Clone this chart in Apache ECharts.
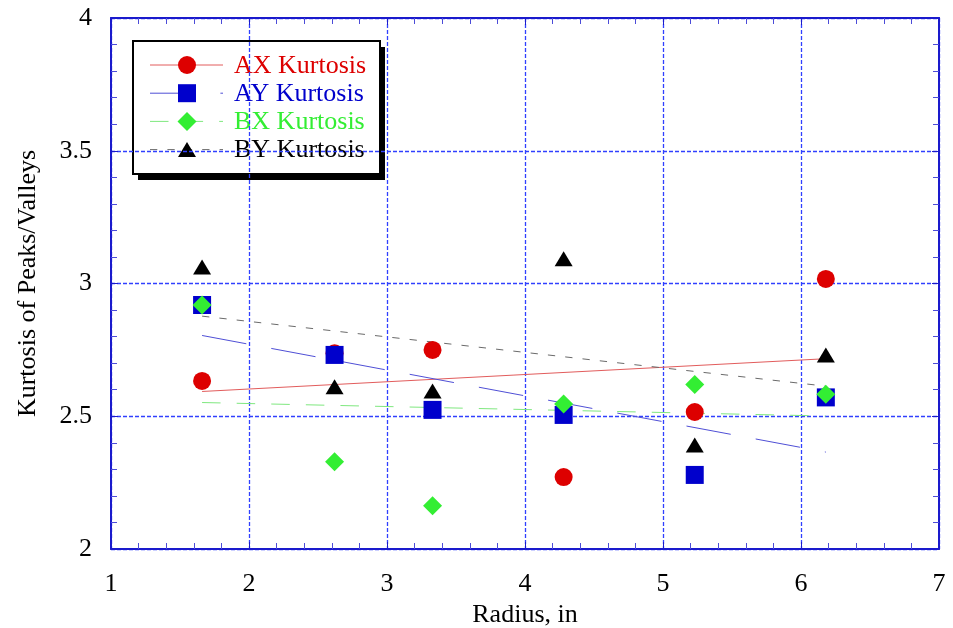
<!DOCTYPE html>
<html>
<head>
<meta charset="utf-8">
<script src="https://cdn.jsdelivr.net/npm/echarts/dist/echarts.min.js"></script>
<style>
  html, body { margin: 0; padding: 0; background: #fff; }
  #chart { width: 953px; height: 628px; }
</style>
</head>
<body>
<div id="chart"></div>
<script>
// Kurtosis of peaks/valleys against radius, four measurement sets
const radius     = [1.66, 2.62, 3.33, 4.28, 5.23, 6.18];
const axKurtosis = [2.633, 2.737, 2.75, 2.271, 2.516, 3.017];
const ayKurtosis = [2.919, 2.731, 2.524, 2.505, 2.279, 2.571];
const bxKurtosis = [2.919, 2.329, 2.163, 2.546, 2.620, 2.583];
const byKurtosis = [3.062, 2.611, 2.595, 3.093, 2.392, 2.731];
const seriesNames = ['AX Kurtosis', 'AY Kurtosis', 'BX Kurtosis', 'BY Kurtosis'];
const xTickLabels = ['1', '2', '3', '4', '5', '6', '7'];
const yTickLabels = ['2', '2.5', '3', '3.5', '4'];

const values = [axKurtosis, ayKurtosis, bxKurtosis, byKurtosis];

const looks = [
  { color: '#dd0000', symbol: 'circle',   size: 18,       line: '#e25c5c', dash: 'solid' },
  { color: '#0000cc', symbol: 'rect',     size: 18,       line: '#4f4fd6', dash: [45, 25.4] },
  { color: '#33ee33', symbol: 'diamond',  size: [19, 19], line: '#7fe87f', dash: [18.5, 16.1] },
  { color: '#000000', symbol: 'triangle', size: [18, 15], line: '#6a6a6a', dash: [7.3, 10.1] }
];

// least-squares line over the range of the data
function linearFit(xs, ys) {
  const n = xs.length;
  const mx = xs.reduce((a, b) => a + b, 0) / n;
  const my = ys.reduce((a, b) => a + b, 0) / n;
  let sxx = 0, sxy = 0;
  for (let i = 0; i < n; i++) {
    sxx += (xs[i] - mx) * (xs[i] - mx);
    sxy += (xs[i] - mx) * (ys[i] - my);
  }
  const slope = sxy / sxx;
  const icpt = my - slope * mx;
  const x0 = Math.min(...xs), x1 = Math.max(...xs);
  return [[x0, icpt + slope * x0], [x1, icpt + slope * x1]];
}

const FONT = 'Liberation Serif';
const FRAME = '#1a1acc';
const FS = 26;

const series = [];
values.forEach((ys, i) => {
  series.push({
    name: seriesNames[i] + ' fit',
    type: 'line',
    data: linearFit(radius, ys),
    showSymbol: false,
    silent: true,
    z: 2,
    lineStyle: { color: looks[i].line, width: 1, type: looks[i].dash }
  });
});
values.forEach((ys, i) => {
  series.push({
    name: seriesNames[i],
    type: 'scatter',
    data: radius.map((x, k) => [x, ys[k]]),
    symbol: looks[i].symbol,
    symbolSize: looks[i].size,
    z: 3 + i,
    itemStyle: { color: looks[i].color, opacity: 1 }
  });
});

function frameAxis(extra) {
  return Object.assign({
    type: 'value',
    axisLine: { show: true, onZero: false, lineStyle: { color: FRAME, width: 2 } },
    axisTick: { show: true, inside: true, length: 7, lineStyle: { color: FRAME, width: 1 } },
    minorTick: { show: true, splitNumber: 5, length: 6, lineStyle: { color: '#4c4cd8', width: 1 } },
    splitLine: { show: false },
    axisLabel: { show: false }
  }, extra);
}

const gridLine = { show: true, lineStyle: { color: '#3040ff', width: 1.3, type: [4, 2] } };

// legend box drawn with graphic elements
const legendLeft = 133, legendTop = 41, legendW = 247, legendH = 133;
const legendItems = [];
legendItems.push({ type: 'rect', shape: { x: legendLeft + 5, y: legendTop + 6, width: legendW, height: legendH },
  style: { fill: '#000' } });
legendItems.push({ type: 'rect', shape: { x: legendLeft, y: legendTop, width: legendW, height: legendH },
  style: { fill: '#fff', stroke: '#000', lineWidth: 2 } });
seriesNames.forEach((name, i) => {
  const cy = 65 + i * 28.2;
  legendItems.push({ type: 'line', shape: { x1: 150, y1: cy, x2: 223, y2: cy },
    style: { stroke: looks[i].line, lineWidth: 1, lineDash: looks[i].dash === 'solid' ? null : looks[i].dash } });
  const sz = Array.isArray(looks[i].size) ? looks[i].size : [looks[i].size, looks[i].size];
  let shape;
  if (looks[i].symbol === 'circle') {
    shape = { type: 'circle', shape: { cx: 187, cy: cy, r: sz[0] / 2 } };
  } else if (looks[i].symbol === 'rect') {
    shape = { type: 'rect', shape: { x: 187 - sz[0] / 2, y: cy - sz[1] / 2, width: sz[0], height: sz[1] } };
  } else if (looks[i].symbol === 'diamond') {
    shape = { type: 'polygon', shape: { points: [[187, cy - sz[1] / 2], [187 + sz[0] / 2, cy], [187, cy + sz[1] / 2], [187 - sz[0] / 2, cy]] } };
  } else {
    shape = { type: 'polygon', shape: { points: [[187, cy - sz[1] / 2], [187 + sz[0] / 2, cy + sz[1] / 2], [187 - sz[0] / 2, cy + sz[1] / 2]] } };
  }
  shape.style = { fill: looks[i].color };
  legendItems.push(shape);
  legendItems.push({ type: 'text', x: 234, y: cy + 1, style: { text: name, fill: looks[i].color,
    font: FS + 'px "' + FONT + '"', verticalAlign: 'middle' } });
});

const option = {
  animation: false,
  backgroundColor: '#fff',
  grid: { left: 111, right: 14, top: 18, bottom: 79, containLabel: false, outerBoundsMode: 'none' },
  xAxis: [
    frameAxis({
      position: 'bottom', min: 1, max: 7, interval: 1,
      splitLine: gridLine,
      axisLabel: { show: true, color: '#000', fontFamily: FONT, fontSize: FS, margin: 22,
        formatter: (v) => xTickLabels[Math.round(v - 1)] },
      name: 'Radius, in', nameLocation: 'middle', nameGap: 51,
      nameTextStyle: { color: '#000', fontFamily: FONT, fontSize: FS }
    }),
    frameAxis({ position: 'top', min: 1, max: 7, interval: 1 })
  ],
  yAxis: [
    frameAxis({
      position: 'left', min: 2, max: 4, interval: 0.5,
      splitLine: gridLine,
      axisLabel: { show: true, color: '#000', fontFamily: FONT, fontSize: FS, margin: 19,
        formatter: (v) => yTickLabels[Math.round((v - 2) * 2)] },
      name: 'Kurtosis of Peaks/Valleys', nameLocation: 'middle', nameGap: 70,
      nameTextStyle: { color: '#000', fontFamily: FONT, fontSize: FS }
    }),
    frameAxis({ position: 'right', min: 2, max: 4, interval: 0.5 })
  ],
  series: series,
  graphic: { elements: [{ type: 'group', z: 100, children: legendItems }] }
};

const chart = echarts.init(document.getElementById('chart'), null, { renderer: 'canvas' });
chart.setOption(option);
</script>
</body>
</html>
